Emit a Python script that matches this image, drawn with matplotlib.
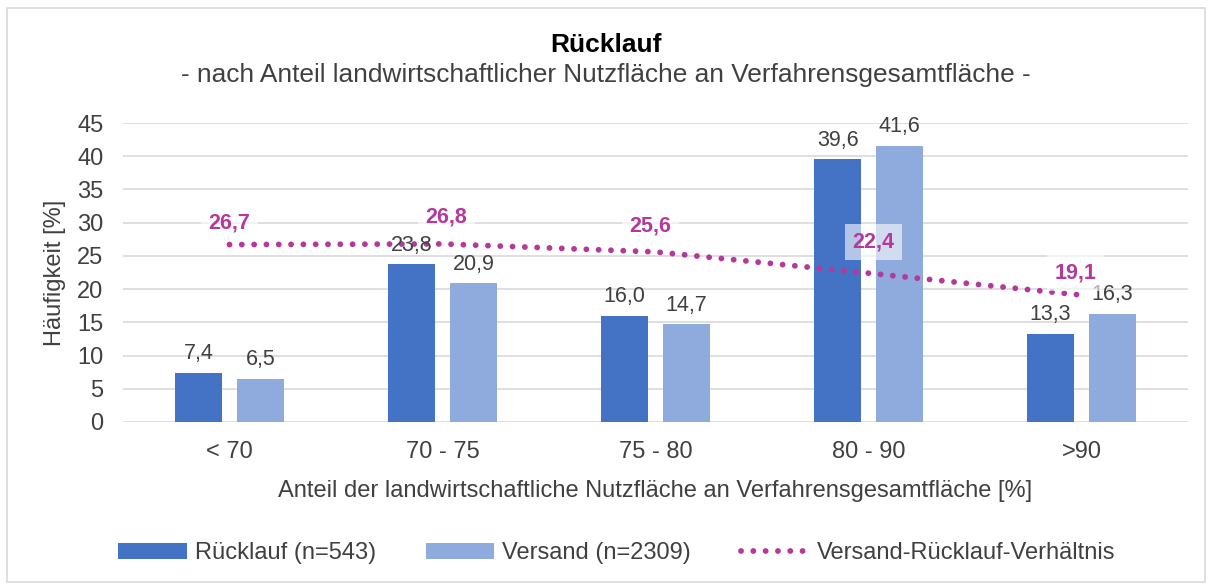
import matplotlib
matplotlib.use('Agg')
import matplotlib.pyplot as plt
import numpy as np
from matplotlib.patches import Rectangle

plt.rcParams['font.family'] = ['Liberation Sans', 'DejaVu Sans']

# data
categories = ['< 70', '70 - 75', '75 - 80', '80 - 90', '>90']
ruecklauf = [7.4, 23.8, 16.0, 39.6, 13.3]
versand = [6.5, 20.9, 14.7, 41.6, 16.3]
verhaeltnis = [26.7, 26.8, 25.6, 22.4, 19.1]
y_ticks = [0, 5, 10, 15, 20, 25, 30, 35, 40, 45]

c_rueck = '#4472C4'
c_vers = '#8FAADC'
c_line = '#B4399C'
c_text = '#404040'
c_grid = '#D9D9D9'


def fmt(v):
    return ('%.1f' % v).replace('.', ',')


W, H = 1212, 585
fig = plt.figure(figsize=(W / 100, H / 100), dpi=100)
fig.patches.append(Rectangle((7 / W, 3 / H), 1198 / W, 574 / H, transform=fig.transFigure,
                             fill=False, edgecolor='#D9D9D9', linewidth=1.2))

ax = fig.add_axes([123 / W, 1 - 422 / H, 1065 / W, 299 / H])
x = np.arange(len(categories))
bw = 0.22
off = 0.145

b1 = ax.bar(x - off, ruecklauf, bw, color=c_rueck, label='Rücklauf (n=543)', zorder=2)
b2 = ax.bar(x + off, versand, bw, color=c_vers, label='Versand (n=2309)', zorder=2)
ln, = ax.plot(x, verhaeltnis, linestyle=(0, (0.01, 2.1)), dash_capstyle='round', color=c_line,
              linewidth=4.2, label='Versand-Rücklauf-Verhältnis', zorder=3)

for xi, v in zip(x - off, ruecklauf):
    ax.annotate(fmt(v), (xi, v), xytext=(0, 6), textcoords='offset points',
                ha='center', va='bottom', fontsize=15.5, color=c_text, zorder=4)
for xi, v in zip(x + off, versand):
    ax.annotate(fmt(v), (xi, v), xytext=(0, 6), textcoords='offset points',
                ha='center', va='bottom', fontsize=15.5, color=c_text, zorder=4)

# label placement as in the original (pixel offsets)
label_shift = [(0, 22), (4, 27), (-5, 26), (5, 31), (-6, 22)]
for xi, v, (dx, dy) in zip(x, verhaeltnis, label_shift):
    ax.annotate(fmt(v), (xi, v), xytext=(dx * 0.72, dy * 0.72), textcoords='offset points',
                ha='center', va='center', fontsize=15.5, color=c_line, fontweight='bold', zorder=5,
                bbox=dict(boxstyle='square,pad=0.35', facecolor='white', alpha=0.6, edgecolor='none'))

ax.set_xlim(-0.5, len(categories) - 0.5)
ax.set_ylim(0, 45)
ax.set_yticks(y_ticks)
ax.set_xticks(x)
ax.set_xticklabels(categories)
ax.tick_params(axis='both', length=0, labelsize=17, colors=c_text)
ax.tick_params(axis='x', pad=14)
ax.tick_params(axis='y', pad=14)
ax.grid(axis='y', color=c_grid, linewidth=1.2, zorder=0)
for s in ax.spines.values():
    s.set_visible(False)

ax.set_ylabel('Häufigkeit [%]', fontsize=17, color=c_text, labelpad=8)
ax.set_xlabel('Anteil der landwirtschaftliche Nutzfläche an Verfahrensgesamtfläche [%]',
              fontsize=17, color=c_text, labelpad=12)

fig.text(0.5, 1 - 45 / H, 'Rücklauf', ha='center', va='center', fontsize=19,
         fontweight='bold', color='black')
fig.text(0.5, 1 - 75 / H, '- nach Anteil landwirtschaftlicher Nutzfläche an Verfahrensgesamtfläche -',
         ha='center', va='center', fontsize=18.9, color=c_text)

fig.legend(handles=[b1, b2, ln], loc='center', bbox_to_anchor=(0.5 + 11 / W, 1 - 553 / H), ncol=3,
           frameon=False, fontsize=17, labelcolor=c_text, handlelength=2.9, handleheight=0.65,
           columnspacing=2.1, handletextpad=0.35)

fig.savefig('out.png', dpi=100)
